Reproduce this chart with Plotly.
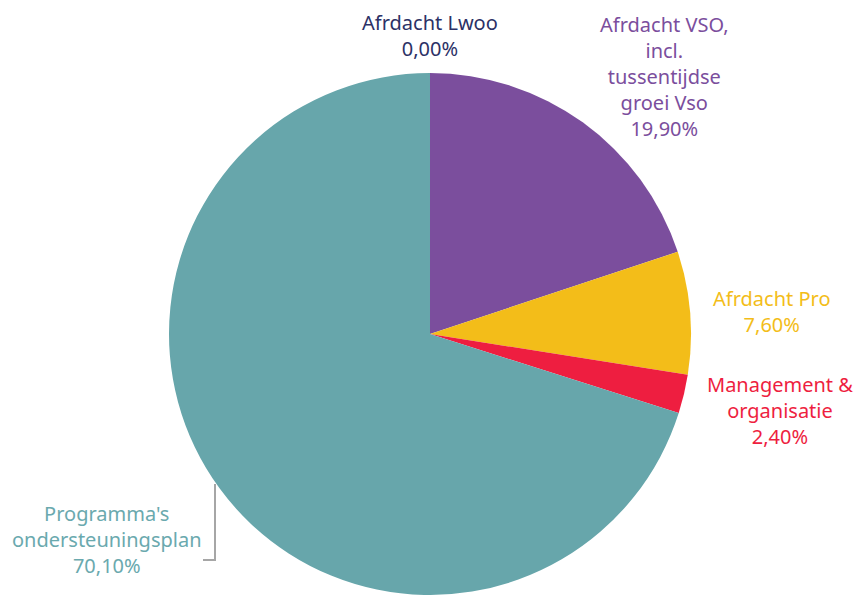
import plotly.graph_objects as go

labels = ["Afrdacht Lwoo", "Afrdacht VSO,<br>incl.<br>tussentijdse<br>groei Vso", "Afrdacht Pro",
          "Management &amp;<br>organisatie", "Programma's<br>ondersteuningsplan"]
values = [0.0, 19.9, 7.6, 2.4, 70.1]
slice_colors = ["#2c3166", "#7b4e9d", "#f3bd19", "#ee1e40", "#67a6ab"]
label_colors = ["#2c3166", "#7b4e9d", "#f3bd19", "#ee1e40", "#6aa9ae"]

W, H = 854, 595
# label anchor positions (pixels, layout only)
label_pos = [(430, 35), (664, 76), (771, 311), (780, 410), (107, 539)]

cx, cy, r = 430, 334, 261

fig = go.Figure(go.Pie(
    labels=[l.replace("<br>", " ") for l in labels],
    values=values,
    sort=False,
    direction="clockwise",
    rotation=0,
    marker=dict(colors=slice_colors, line=dict(width=0)),
    textinfo="none",
    hoverinfo="skip",
    domain=dict(x=[(cx - r) / W, (cx + r) / W], y=[(H - cy - r) / H, (H - cy + r) / H]),
    showlegend=False,
))

for lab, val, col, (px, py) in zip(labels, values, label_colors, label_pos):
    pct = f"{val:.2f}".replace(".", ",") + "%"
    fig.add_annotation(
        x=px / W, y=1 - py / H, xref="paper", yref="paper",
        text=f"{lab}<br>{pct}", showarrow=False, xanchor="center", yanchor="middle",
        align="center", font=dict(family="Noto Sans", size=20, color=col),
    )

# leader line for the large slice
x1, y1, y2, x2 = 215, 484, 560, 203
fig.add_shape(type="path", xref="paper", yref="paper",
              path=f"M {x1/W} {1-y1/H} L {x1/W} {1-y2/H} L {x2/W} {1-y2/H}",
              line=dict(color="#a6a6a6", width=2), layer="below")

fig.update_layout(
    width=W, height=H,
    margin=dict(l=0, r=0, t=0, b=0),
    paper_bgcolor="white", plot_bgcolor="white",
    font=dict(family="Noto Sans"),
)
fig.write_html("out.html", config={"displayModeBar": False},
               post_script="document.body.style.margin='0';document.body.style.overflow='hidden';")
